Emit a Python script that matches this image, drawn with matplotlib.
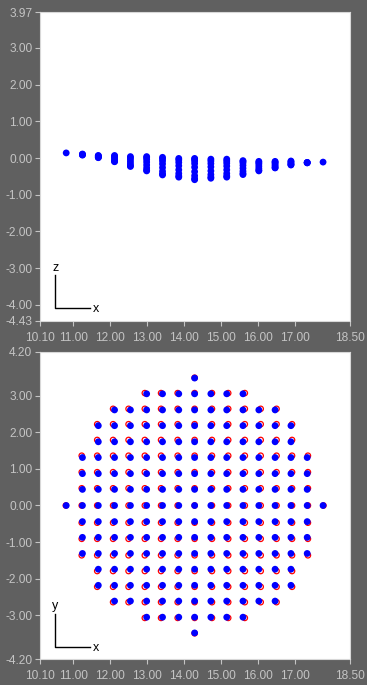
import matplotlib
matplotlib.use("Agg")
import matplotlib.pyplot as plt

# column / row positions of the spot grid
col_x = [10.81, 11.25, 11.68, 12.12, 12.55, 12.99, 13.42, 13.86, 14.29,
         14.73, 15.16, 15.60, 16.03, 16.47, 16.90, 17.34, 17.77]
row_y = [3.48, 3.05, 2.61, 2.18, 1.74, 1.31, 0.87, 0.44, 0.00,
         -0.44, -0.87, -1.31, -1.74, -2.18, -2.61, -3.05, -3.48]
# reference (red) grid, slightly pushed outwards
red_x = [10.80, 11.23, 11.65, 12.08, 12.50, 12.94, 13.38, 13.83, 14.29,
         14.76, 15.20, 15.65, 16.08, 16.51, 16.93, 17.36, 17.78]
red_y = [3.49, 3.07, 2.64, 2.22, 1.79, 1.36, 0.91, 0.47, 0.00,
         -0.47, -0.91, -1.36, -1.79, -2.22, -2.64, -3.07, -3.49]
# how many columns each side of the centre a row reaches
row_half = [0, 3, 5, 6, 6, 7, 7, 7, 8, 7, 7, 7, 6, 6, 5, 3, 0]

# z values per column (x-z view), from the centre row outwards
z_cols = [
    [0.14],
    [0.08, 0.09, 0.10, 0.11],
    [0.01, 0.02, 0.03, 0.05, 0.06, 0.07],
    [-0.10, -0.09, -0.06, -0.02, 0.02, 0.05, 0.07],
    [-0.23, -0.21, -0.16, -0.10, -0.04, 0.01, 0.04],
    [-0.35, -0.33, -0.27, -0.19, -0.11, -0.04, 0.01, 0.04],
    [-0.46, -0.43, -0.36, -0.26, -0.16, -0.08, -0.02, 0.02],
    [-0.52, -0.49, -0.42, -0.32, -0.21, -0.12, -0.05, -0.01],
    [-0.59, -0.56, -0.48, -0.37, -0.25, -0.15, -0.08, -0.03, -0.01],
    [-0.55, -0.52, -0.45, -0.35, -0.24, -0.15, -0.08, -0.03],
    [-0.52, -0.49, -0.42, -0.32, -0.22, -0.14, -0.08, -0.03],
    [-0.45, -0.42, -0.36, -0.28, -0.20, -0.13, -0.09, -0.07],
    [-0.35, -0.33, -0.28, -0.22, -0.16, -0.12, -0.09],
    [-0.27, -0.26, -0.22, -0.18, -0.14, -0.11, -0.09],
    [-0.19, -0.18, -0.16, -0.13, -0.10, -0.08],
    [-0.13, -0.13, -0.12, -0.12],
    [-0.11],
]

x_ticks = [10.10, 11.00, 12.00, 13.00, 14.00, 15.00, 16.00, 17.00, 18.50]
z_ticks = [3.97, 3.00, 2.00, 1.00, 0.00, -1.00, -2.00, -3.00, -4.00, -4.43]
y_ticks = [4.20, 3.00, 2.00, 1.00, 0.00, -1.00, -2.00, -3.00, -4.20]

bg = "#606060"
txt = "#c4c4c4"
plt.rcParams['font.family'] = ['Liberation Sans', 'DejaVu Sans']

fig = plt.figure(figsize=(3.67, 6.85), dpi=100, facecolor=bg)
W, H = 367.0, 685.0
ax1 = fig.add_axes([40 / W, 1 - 320.7 / H, 310 / W, 308.4 / H])
ax2 = fig.add_axes([40 / W, 1 - 659.3 / H, 310 / W, 307.6 / H])


def lbl(v):
    return "%.2f" % v


def style(ax, yt, ylo, yhi):
    ax.set_facecolor("white")
    ax.set_xlim(10.10, 18.50)
    ax.set_ylim(ylo, yhi)
    ax.set_xticks(x_ticks)
    ax.set_xticklabels([lbl(v) for v in x_ticks])
    ax.set_yticks(yt)
    ax.set_yticklabels([lbl(v) for v in yt])
    ax.tick_params(colors=txt, labelsize=8.6, length=3.5, width=0.8)
    ax.tick_params(axis='x', pad=4.5)
    ax.tick_params(axis='y', pad=2)
    for s in ax.spines.values():
        s.set_color("#d8d8d8")
        s.set_linewidth(0.8)


# top: x-z view
for j, zs in enumerate(z_cols):
    ax1.scatter([col_x[j]] * len(zs), zs, s=24, color="#0000ff",
                edgecolors="none", zorder=3)
style(ax1, z_ticks, -4.43, 3.97)

# bottom: x-y view
bx, by, rx, ry = [], [], [], []
for k, half in enumerate(row_half):
    for j in range(8 - half, 8 + half + 1):
        bx.append(col_x[j])
        by.append(row_y[k])
        rx.append(red_x[j])
        ry.append(red_y[k])
ax2.scatter(rx, ry, s=15, facecolors="none", edgecolors="#ff0000",
            linewidths=0.9, zorder=2)
ax2.scatter(bx, by, s=24, color="#0000ff", edgecolors="none", zorder=3)
style(ax2, y_ticks, -4.20, 4.20)


# small axis glyph in the lower left corner
def glyph(ax, vname):
    tr = ax.transAxes
    ax.plot([0.049, 0.049, 0.161], [0.148, 0.040, 0.040], color="black",
            lw=1.0, transform=tr, zorder=5)
    ax.text(0.049, 0.172, vname, transform=tr, ha="center", va="center",
            fontsize=9, color="black")
    ax.text(0.181, 0.038, "x", transform=tr, ha="center", va="center",
            fontsize=9, color="black")


glyph(ax1, "z")
glyph(ax2, "y")

fig.savefig("out.png", dpi=100, facecolor=bg)
